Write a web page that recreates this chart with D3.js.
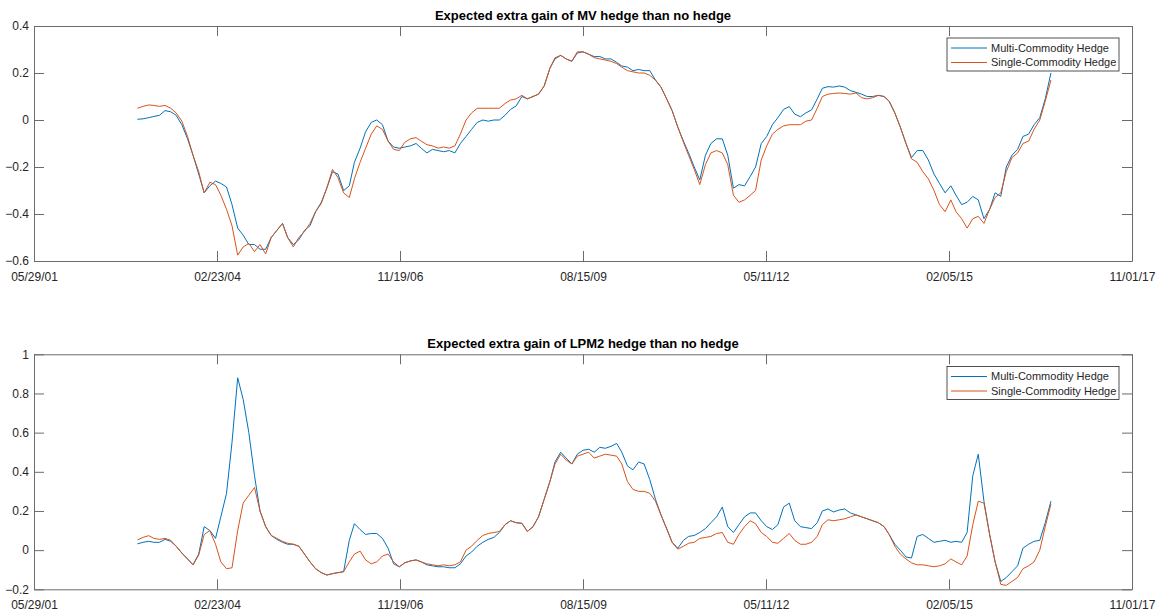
<!doctype html>
<html lang="en">
<head>
    <meta charset="utf-8"/>
    <title>Expected extra gain of hedges</title>
    <style>
        body { margin: 0; background: #fff; }
        svg { display: block; font-family: "Liberation Sans", Arial, Helvetica, sans-serif; }
        .axis path, .axis line { stroke: #6b6b6b; }
        .axis text { fill: #262626; font-size: 12px; }
    </style>
</head>
<body>
    <svg id="chart" width="1162" height="613"></svg>
    <script src="https://d3js.org/d3.v7.min.js"></script>
    <script>
        // x tick labels (every 1000 days), also used as the axis limits
        const xTickLabels = ["05/29/01", "02/23/04", "11/19/06", "08/15/09", "05/11/12", "02/05/15", "11/01/17"];
        const seriesNames = ["Multi-Commodity Hedge", "Single-Commodity Hedge"];
        const titles = ["Expected extra gain of MV hedge than no hedge", "Expected extra gain of LPM2 hedge than no hedge"];
        const mvTicks = [-0.6, -0.4, -0.2, 0, 0.2, 0.4];
        const lpmTicks = [-0.2, 0, 0.2, 0.4, 0.6, 0.8, 1];

        // monthly observations, mid-month, Dec 2002 .. Aug 2016
        const firstMonth = "2002-12-15";

        const mvMulti = [
            0.003, 0.005, 0.01, 0.015, 0.02, 0.04, 0.035, 0.02, -0.02, -0.08,
            -0.15, -0.23, -0.31, -0.28, -0.26, -0.27, -0.285, -0.36, -0.46, -0.49,
            -0.53, -0.53, -0.55, -0.55, -0.50, -0.47, -0.44, -0.50, -0.53, -0.51,
            -0.47, -0.45, -0.39, -0.35, -0.29, -0.22, -0.23, -0.30, -0.28, -0.18,
            -0.12, -0.05, -0.01, 0.0, -0.02, -0.09, -0.115, -0.12, -0.115, -0.11,
            -0.10, -0.12, -0.14, -0.125, -0.13, -0.135, -0.13, -0.14, -0.10, -0.07,
            -0.04, -0.01, 0.0, -0.005, 0.0, 0.0, 0.02, 0.045, 0.06, 0.10,
            0.09, 0.10, 0.11, 0.145, 0.22, 0.26, 0.275, 0.26, 0.25, 0.285,
            0.29, 0.28, 0.27, 0.27, 0.26, 0.26, 0.245, 0.23, 0.225, 0.21,
            0.215, 0.21, 0.21, 0.17, 0.14, 0.09, 0.04, -0.03, -0.09, -0.14,
            -0.20, -0.255, -0.15, -0.10, -0.08, -0.08, -0.15, -0.29, -0.275, -0.28,
            -0.24, -0.20, -0.10, -0.07, -0.02, 0.01, 0.045, 0.057, 0.025, 0.014,
            0.03, 0.043, 0.09, 0.135, 0.142, 0.14, 0.145, 0.14, 0.125, 0.118,
            0.11, 0.10, 0.10, 0.105, 0.10, 0.08, 0.03, -0.03, -0.10, -0.16,
            -0.13, -0.13, -0.17, -0.23, -0.27, -0.31, -0.28, -0.32, -0.36, -0.35,
            -0.325, -0.34, -0.42, -0.38, -0.31, -0.325, -0.20, -0.15, -0.125, -0.07,
            -0.06, -0.02, 0.01, 0.09, 0.20
        ];
        const mvSingle = [
            0.05, 0.058, 0.064, 0.062, 0.058, 0.062, 0.05, 0.03, -0.005, -0.07,
            -0.15, -0.22, -0.31, -0.265, -0.275, -0.32, -0.38, -0.45, -0.575, -0.54,
            -0.525, -0.56, -0.53, -0.57, -0.50, -0.47, -0.44, -0.50, -0.54, -0.50,
            -0.475, -0.44, -0.39, -0.355, -0.29, -0.21, -0.245, -0.31, -0.33, -0.25,
            -0.18, -0.12, -0.06, -0.025, -0.04, -0.09, -0.125, -0.13, -0.095, -0.08,
            -0.075, -0.09, -0.105, -0.11, -0.12, -0.115, -0.12, -0.11, -0.06, 0.0,
            0.03, 0.05, 0.05, 0.05, 0.05, 0.05, 0.07, 0.085, 0.09, 0.105,
            0.09, 0.10, 0.11, 0.145, 0.22, 0.265, 0.275, 0.26, 0.25, 0.29,
            0.29, 0.28, 0.265, 0.26, 0.255, 0.25, 0.24, 0.225, 0.21, 0.205,
            0.20, 0.20, 0.19, 0.17, 0.14, 0.09, 0.04, -0.03, -0.095, -0.15,
            -0.21, -0.275, -0.19, -0.14, -0.13, -0.14, -0.19, -0.32, -0.35, -0.34,
            -0.32, -0.30, -0.17, -0.11, -0.06, -0.04, -0.025, -0.02, -0.02, -0.02,
            -0.005, 0.0, 0.05, 0.10, 0.11, 0.113, 0.115, 0.113, 0.11, 0.115,
            0.095, 0.09, 0.095, 0.105, 0.10, 0.08, 0.03, -0.03, -0.10, -0.165,
            -0.18, -0.22, -0.25, -0.30, -0.36, -0.39, -0.34, -0.39, -0.42, -0.46,
            -0.42, -0.41, -0.44, -0.38, -0.33, -0.31, -0.22, -0.16, -0.14, -0.10,
            -0.09, -0.04, 0.0, 0.08, 0.17
        ];
        const lpmMulti = [
            0.032, 0.04, 0.045, 0.04, 0.04, 0.055, 0.045, 0.02, -0.015, -0.045,
            -0.075, -0.02, 0.12, 0.10, 0.06, 0.17, 0.29, 0.55, 0.88, 0.77,
            0.60, 0.38, 0.20, 0.12, 0.075, 0.055, 0.04, 0.03, 0.03, 0.02,
            -0.02, -0.06, -0.095, -0.115, -0.127, -0.12, -0.115, -0.11, 0.05, 0.135,
            0.105, 0.08, 0.085, 0.085, 0.06, 0.01, -0.07, -0.085, -0.065, -0.055,
            -0.05, -0.06, -0.075, -0.08, -0.085, -0.085, -0.09, -0.09, -0.07, -0.03,
            -0.01, 0.02, 0.04, 0.055, 0.065, 0.09, 0.13, 0.15, 0.14, 0.137,
            0.095, 0.12, 0.17, 0.26, 0.35, 0.45, 0.50, 0.47, 0.44, 0.49,
            0.51, 0.515, 0.50, 0.525, 0.52, 0.53, 0.545, 0.50, 0.43, 0.41,
            0.45, 0.44, 0.36, 0.26, 0.18, 0.11, 0.04, 0.01, 0.05, 0.07,
            0.075, 0.09, 0.11, 0.14, 0.17, 0.22, 0.12, 0.09, 0.13, 0.17,
            0.19, 0.19, 0.15, 0.12, 0.105, 0.13, 0.22, 0.24, 0.15, 0.12,
            0.115, 0.11, 0.14, 0.20, 0.21, 0.195, 0.205, 0.21, 0.19, 0.18,
            0.17, 0.16, 0.15, 0.14, 0.12, 0.08, 0.03, 0.0, -0.035, -0.04,
            0.07, 0.08, 0.06, 0.04, 0.045, 0.05, 0.04, 0.045, 0.04, 0.09,
            0.38, 0.49, 0.25, 0.08, -0.06, -0.16, -0.14, -0.11, -0.08, 0.01,
            0.03, 0.045, 0.05, 0.14, 0.25
        ];
        const lpmSingle = [
            0.052, 0.065, 0.074, 0.06, 0.055, 0.06, 0.05, 0.02, -0.015, -0.045,
            -0.075, -0.025, 0.08, 0.10, 0.03, -0.06, -0.095, -0.09, 0.10, 0.24,
            0.28, 0.32, 0.20, 0.12, 0.075, 0.06, 0.045, 0.035, 0.03, 0.02,
            -0.02, -0.06, -0.095, -0.115, -0.127, -0.12, -0.115, -0.11, -0.06, -0.02,
            -0.005, -0.05, -0.07, -0.06, -0.03, -0.02, -0.06, -0.085, -0.065, -0.055,
            -0.05, -0.06, -0.07, -0.075, -0.08, -0.075, -0.08, -0.075, -0.06, 0.0,
            0.02, 0.05, 0.075, 0.085, 0.09, 0.095, 0.13, 0.15, 0.14, 0.137,
            0.095, 0.12, 0.17, 0.26, 0.35, 0.44, 0.49, 0.46, 0.44, 0.48,
            0.49, 0.50, 0.47, 0.48, 0.49, 0.485, 0.48, 0.44, 0.35, 0.31,
            0.30, 0.30, 0.29, 0.25, 0.18, 0.11, 0.04, 0.005, 0.02, 0.035,
            0.04, 0.06, 0.065, 0.07, 0.085, 0.09, 0.04, 0.03, 0.08, 0.12,
            0.15, 0.135, 0.09, 0.07, 0.04, 0.035, 0.06, 0.085, 0.05, 0.03,
            0.03, 0.04, 0.07, 0.13, 0.155, 0.15, 0.155, 0.16, 0.17, 0.18,
            0.17, 0.16, 0.15, 0.14, 0.12, 0.08, 0.02, -0.02, -0.045, -0.065,
            -0.075, -0.075, -0.08, -0.085, -0.08, -0.07, -0.045, -0.06, -0.075, -0.03,
            0.13, 0.25, 0.24, 0.08, -0.06, -0.175, -0.18, -0.16, -0.14, -0.095,
            -0.08, -0.06, 0.0, 0.12, 0.235
        ];

        const colors = ["#0072BD", "#D95319"];

        const parseTick = d3.timeParse("%m/%d/%y");
        const tickDates = xTickLabels.map(parseTick);
        const start = d3.timeParse("%Y-%m-%d")(firstMonth);
        const dates = mvMulti.map((v, i) => d3.timeMonth.offset(start, i));

        const svg = d3.select("#chart");
        const plotLeft = 34, plotRight = 1132;

        const x = d3.scaleTime()
            .domain([tickDates[0], tickDates[tickDates.length - 1]])
            .range([plotLeft, plotRight]);

        function drawPanel(top, bottom, yTicks, series, title, legendTop) {
            const y = d3.scaleLinear()
                .domain([yTicks[0], yTicks[yTicks.length - 1]])
                .range([bottom, top]);

            const g = svg.append("g");

            g.append("rect")
                .attr("x", plotLeft).attr("y", top)
                .attr("width", plotRight - plotLeft).attr("height", bottom - top)
                .attr("fill", "#fff");

            // box with inward ticks on all four sides
            g.append("g").attr("class", "axis")
                .attr("transform", `translate(0,${bottom})`)
                .call(d3.axisBottom(x).tickValues(tickDates)
                    .tickFormat((d, i) => xTickLabels[i])
                    .tickSizeInner(-10).tickSizeOuter(0).tickPadding(11));
            g.append("g").attr("class", "axis")
                .attr("transform", `translate(0,${top})`)
                .call(d3.axisTop(x).tickValues(tickDates).tickFormat("")
                    .tickSizeInner(-10).tickSizeOuter(0));
            g.append("g").attr("class", "axis")
                .attr("transform", `translate(${plotLeft},0)`)
                .call(d3.axisLeft(y).tickValues(yTicks).tickFormat(d3.format("~g"))
                    .tickSizeInner(-10).tickSizeOuter(0).tickPadding(5));
            g.append("g").attr("class", "axis")
                .attr("transform", `translate(${plotRight},0)`)
                .call(d3.axisRight(y).tickValues(yTicks).tickFormat("")
                    .tickSizeInner(-10).tickSizeOuter(0));
            g.selectAll(".axis text").style("font-size", "12px");

            const line = d3.line()
                .x((d, i) => x(dates[i]))
                .y(d => y(d));

            series.forEach((s, i) => {
                g.append("path")
                    .datum(s)
                    .attr("fill", "none")
                    .attr("stroke", colors[i])
                    .attr("stroke-width", 1)
                    .attr("stroke-linejoin", "round")
                    .attr("d", line);
            });

            g.append("text")
                .attr("x", (plotLeft + plotRight) / 2)
                .attr("y", top - 6)
                .attr("text-anchor", "middle")
                .attr("font-size", 13)
                .attr("font-weight", "bold")
                .attr("fill", "#000")
                .text(title);

            // legend
            const lg = g.append("g").attr("transform", `translate(947,${legendTop})`);
            lg.append("rect")
                .attr("width", 172).attr("height", 33)
                .attr("fill", "#fff")
                .attr("stroke", "#262626")
                .attr("stroke-width", 0.8);
            seriesNames.forEach((name, i) => {
                const ly = 10 + i * 14.5;
                lg.append("line")
                    .attr("x1", 4).attr("x2", 40)
                    .attr("y1", ly).attr("y2", ly)
                    .attr("stroke", colors[i]).attr("stroke-width", 1);
                lg.append("text")
                    .attr("x", 44).attr("y", ly)
                    .attr("dy", "0.35em")
                    .attr("font-size", 11)
                    .attr("fill", "#262626")
                    .text(name);
            });
        }

        drawPanel(26, 261, mvTicks, [mvMulti, mvSingle], titles[0], 38);
        drawPanel(354.3, 589.3, lpmTicks, [lpmMulti, lpmSingle], titles[1], 366.5);
    </script>
</body>
</html>
